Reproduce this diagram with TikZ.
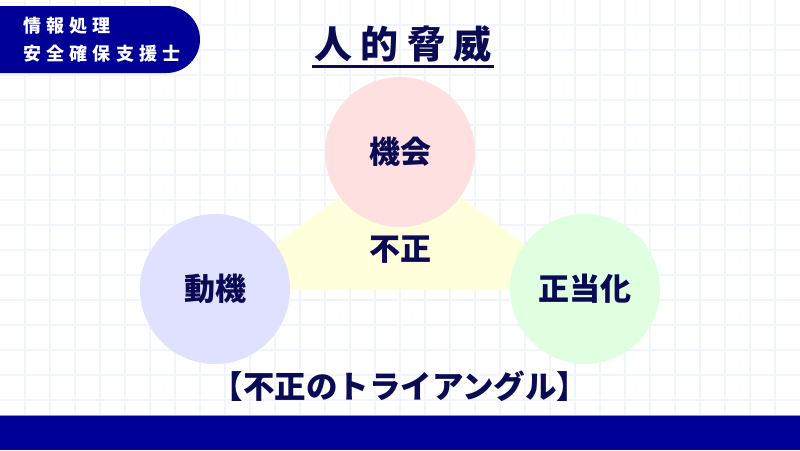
\documentclass[tikz,border=0pt]{standalone}
\usepackage{fontspec}
\newfontfamily\jp{Noto Sans CJK JP}
\newfontfamily\jpheavy{Noto Sans CJK JP Black}
\newfontfamily\jpwide{Noto Sans CJK JP}[LetterSpace=29]
\newfontfamily\jpheavywide{Noto Sans CJK JP Black}[LetterSpace=22]
\usetikzlibrary{backgrounds}

\definecolor{navy}{HTML}{000096}
\definecolor{ink}{HTML}{0B0B55}
\definecolor{gridline}{HTML}{F0F5FC}
\definecolor{pinkfill}{HTML}{FFE0E0}
\definecolor{bluefill}{HTML}{E0E0FF}
\definecolor{greenfill}{HTML}{E0FFE0}
\definecolor{yellowfill}{HTML}{FFFFDC}

\begin{document}
\begin{tikzpicture}[
			x=1pt, y=-1pt,
			every node/.style={text=ink, inner sep=0pt},
			factor/.style={circle, minimum size=150pt, font={\jp\bfseries\fontsize{31}{34}\selectfont}},
			badgetext/.style={text=white, align=left, font={\jpwide\bfseries\fontsize{18}{28}\selectfont}},
			heading/.style={font={\jpheavywide\fontsize{38}{40}\selectfont}, inner xsep=2pt, inner ysep=4pt},
			caption/.style={font={\jp\bfseries\fontsize{31.5}{34}\selectfont}},
			gridstyle/.style={draw=gridline, line width=2pt}
		]
		\useasboundingbox (0,0) rectangle (800,450);

		% Factors
		\node[factor, fill=pinkfill] (chance) at (400,152) {機会};
		\node[factor, fill=bluefill] (motive) at (215,289) {動機};
		\node[factor, fill=greenfill] (excuse) at (585,289) {正当化};
		\node[font={\jp\bfseries\fontsize{31}{34}\selectfont}] (fraud) at (400,250) {不正};

		% Grid and triangle behind the factors
		\begin{scope}[on background layer]
			\foreach \gx in {25,50,...,775}
				\draw[gridstyle] (\gx,0) -- (\gx,415);
			\foreach \gy in {25,50,...,400}
				\draw[gridstyle] (0,\gy) -- (800,\gy);
			\fill[yellowfill] (chance.center) -- (motive.center) -- (excuse.center) -- cycle;
		\end{scope}

		% Badge and bottom bar
		\fill[navy, rounded corners=33.5pt] (-40,6) rectangle (200,73);
		\node[badgetext, anchor=west] (exam) at (23,39.5) {情報処理\\安全確保支援士};
		\fill[navy] (0,415) rectangle (800,450);
		\draw[navy!45, line width=1pt] (0,415.5) -- (800,415.5);

		% Title
		\node[heading] (title) at (403,44) {人的脅威};
		\draw[ink, line width=2.5pt] (title.south west) -- (title.south east);

		% Caption
		\node[caption] (caption) at (400,386) {【不正のトライアングル】};

	\end{tikzpicture}
\end{document}
